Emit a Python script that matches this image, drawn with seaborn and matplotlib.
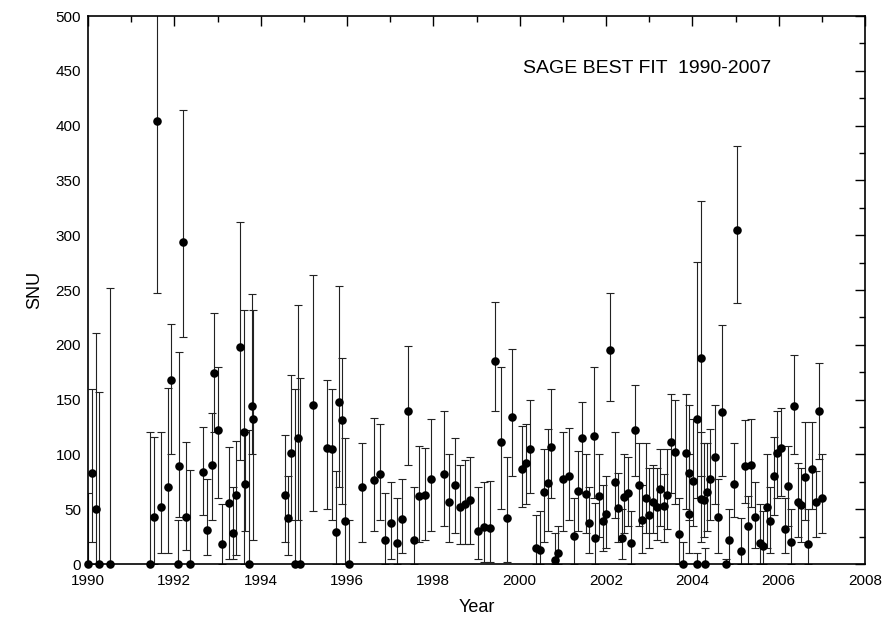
import matplotlib
matplotlib.use("Agg")
import matplotlib.pyplot as plt
import seaborn as sns
import pandas as pd
from matplotlib.ticker import MultipleLocator

year = [1990.00, 1990.09, 1990.19, 1990.25, 1990.51,
        1991.44, 1991.53, 1991.60, 1991.69, 1991.85, 1991.92, 1992.08, 1992.11, 1992.20, 1992.27, 1992.36,
        1992.66, 1992.76, 1992.87, 1992.92, 1993.01, 1993.10, 1993.27, 1993.36, 1993.43, 1993.52, 1993.61,
        1993.64, 1993.73, 1993.80, 1993.82,
        1994.56, 1994.63, 1994.70, 1994.80, 1994.86, 1994.91, 1995.21, 1995.54, 1995.65, 1995.74, 1995.81,
        1995.88, 1995.95, 1996.05,
        1996.35, 1996.62, 1996.76, 1996.88, 1997.02, 1997.16, 1997.27, 1997.41, 1997.55, 1997.67, 1997.81,
        1997.95, 1998.25, 1998.36, 1998.50, 1998.62, 1998.73, 1998.85, 1999.03, 1999.17, 1999.31, 1999.43,
        1999.57, 1999.71, 1999.82, 2000.05, 2000.15, 2000.24, 2000.38, 2000.47, 2000.56, 2000.66, 2000.73,
        2000.82, 2000.89, 2001.00, 2001.14, 2001.26, 2001.35, 2001.44, 2001.54, 2001.61, 2001.72, 2001.74,
        2001.84, 2001.93, 2002.00, 2002.09, 2002.21, 2002.28, 2002.37, 2002.42, 2002.51, 2002.58, 2002.67,
        2002.76, 2002.83, 2002.93, 2003.00, 2003.09, 2003.18, 2003.25, 2003.34, 2003.41, 2003.50, 2003.60,
        2003.69, 2003.78, 2003.85, 2003.92, 2003.92, 2004.01, 2004.11, 2004.11, 2004.20, 2004.20, 2004.27,
        2004.29, 2004.34, 2004.41, 2004.53, 2004.59, 2004.69, 2004.78, 2004.85, 2004.96, 2005.03, 2005.13,
        2005.22, 2005.29, 2005.36, 2005.45, 2005.57, 2005.64, 2005.73, 2005.80, 2005.89, 2005.96, 2006.05,
        2006.15, 2006.22, 2006.28, 2006.35, 2006.45, 2006.52, 2006.61, 2006.68, 2006.77, 2006.86, 2006.93,
        2007.00]

snu = [0, 83, 50, 0, 0,
       0, 43, 404, 52, 70, 168, 0, 89, 294, 43, 0,
       84, 31, 90, 174, 122, 18, 56, 28, 63, 198, 120,
       73, 0, 144, 132,
       63, 42, 101, 0, 115, 0, 145, 106, 105, 29, 148,
       131, 39, 0,
       70, 77, 82, 22, 37, 19, 41, 140, 22, 62, 63,
       78, 82, 57, 72, 52, 55, 58, 30, 34, 33, 185,
       111, 42, 134, 87, 92, 105, 15, 13, 66, 74, 107,
       4, 10, 78, 80, 26, 67, 115, 64, 37, 117, 24,
       62, 39, 46, 195, 75, 51, 24, 61, 65, 19, 122,
       72, 40, 60, 45, 57, 52, 68, 53, 63, 111, 102,
       27, 0, 101, 83, 46, 76, 0, 132, 59, 188, 58,
       0, 66, 78, 98, 43, 139, 0, 22, 73, 305, 12,
       89, 35, 90, 43, 19, 16, 52, 39, 80, 101, 106,
       32, 71, 20, 144, 57, 54, 79, 18, 87, 57, 140,
       60]

lower = [0, 20, 0, 0, 0,
         0, 0, 247, 10, 10, 100, 0, 43, 207, 13, 0,
         45, 8, 40, 120, 60, 0, 5, 5, 8, 95, 0,
         30, 0, 100, 22,
         20, 8, 40, 0, 40, 0, 48, 50, 40, 0, 70,
         55, 0, 0,
         20, 30, 40, 0, 5, 0, 10, 90, 0, 20, 22,
         30, 35, 20, 28, 18, 18, 18, 5, 2, 2, 140,
         50, 2, 80, 52, 55, 65, 0, 0, 20, 30, 60,
         0, 0, 30, 40, 0, 30, 65, 28, 10, 60, 0,
         25, 12, 15, 149, 42, 20, 5, 28, 35, 0, 80,
         35, 10, 28, 15, 28, 22, 35, 20, 32, 65, 55,
         0, 0, 50, 40, 10, 35, 0, 60, 20, 80, 25,
         0, 30, 40, 55, 10, 80, 0, 0, 43, 238, 0,
         56, 0, 52, 15, 0, 0, 15, 10, 45, 60, 62,
         10, 35, 0, 100, 25, 20, 40, 0, 50, 25, 96,
         28]

upper = [65, 160, 211, 157, 252,
         120, 116, 520, 120, 161, 219, 40, 193, 414, 111, 86,
         125, 78, 138, 229, 180, 55, 107, 70, 112, 312, 232,
         120, 122, 246, 232,
         118, 80, 172, 160, 236, 170, 264, 168, 160, 85, 254,
         188, 115, 40,
         110, 133, 128, 65, 75, 60, 78, 199, 70, 108, 106,
         132, 140, 100, 115, 90, 95, 98, 70, 75, 76, 239,
         180, 98, 196, 126, 128, 150, 45, 48, 105, 123, 160,
         28, 35, 120, 124, 60, 103, 148, 100, 70, 180, 56,
         100, 72, 80, 247, 120, 83, 50, 100, 98, 48, 163,
         110, 72, 110, 88, 90, 88, 105, 82, 105, 155, 150,
         60, 20, 155, 145, 100, 132, 10, 276, 120, 331, 110,
         15, 110, 123, 145, 78, 218, 5, 50, 110, 381, 42,
         131, 62, 132, 75, 55, 48, 100, 70, 116, 140, 142,
         60, 108, 50, 191, 92, 88, 130, 50, 130, 85, 183,
         100]

df = pd.DataFrame({"Year": year, "SNU": snu, "lo": lower, "hi": upper})

sns.set_theme(style="white")
plt.rcParams["font.family"] = ["Liberation Sans", "DejaVu Sans"]

fig = plt.figure(figsize=(8.9, 6.23), dpi=100)
ax = fig.add_axes([88 / 890, 59 / 623, 777 / 890, 548 / 623])

ax.errorbar(df["Year"], df["SNU"],
            yerr=[df["SNU"] - df["lo"], df["hi"] - df["SNU"]],
            fmt="none", ecolor="#222222", elinewidth=0.8, capsize=3, capthick=0.8, zorder=2)
sns.scatterplot(data=df, x="Year", y="SNU", ax=ax, color="black", s=38,
                edgecolor="black", linewidth=0, zorder=3, clip_on=False)

ax.set_xlim(1990, 2008)
ax.set_ylim(0, 500)
ax.xaxis.set_major_locator(MultipleLocator(2))
ax.xaxis.set_minor_locator(MultipleLocator(1))
ax.yaxis.set_major_locator(MultipleLocator(50))
ax.yaxis.set_minor_locator(MultipleLocator(25))
ax.tick_params(which="both", direction="in", top=True, right=True, color="black",
               labelsize=11, labelcolor="black")
ax.tick_params(which="major", length=7, width=1)
ax.tick_params(which="minor", length=4, width=1)
ax.tick_params(axis="x", which="major", pad=7)
ax.tick_params(axis="y", which="major", pad=5)
for s in ax.spines.values():
    s.set_color("black")
    s.set_linewidth(1.2)
ax.set_xlabel("Year", fontsize=13, color="black", labelpad=8)
ax.set_ylabel("SNU", fontsize=13, color="black", labelpad=9)
ax.text(0.72, 0.905, "SAGE BEST FIT  1990-2007", transform=ax.transAxes,
        ha="center", va="center", fontsize=14, color="black")

fig.savefig("out.png", dpi=100, facecolor="white")
